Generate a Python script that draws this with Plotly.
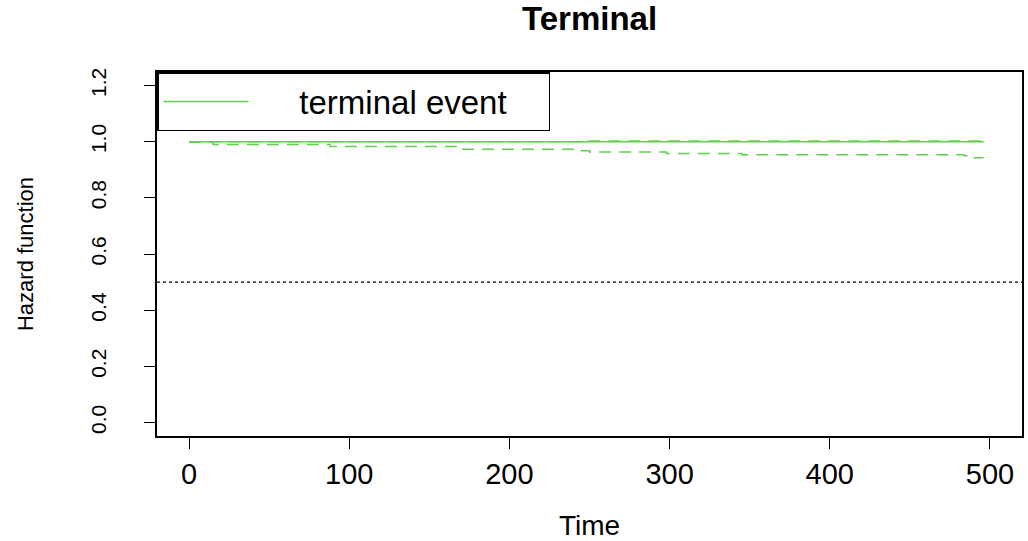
import plotly.graph_objects as go

# ---- data ----
time_pts = [0, 15, 88, 169, 245, 250, 298, 345, 484, 490, 496]
hazard = [1.0, 1.0, 1.0, 1.0, 1.0, 1.0, 1.0, 1.0, 1.0, 1.0, 1.0]
upper = [1.0, 1.0, 1.0, 1.0, 1.002, 1.002, 1.002, 1.002, 1.002, 1.002, 1.002]
lower = [0.998, 0.990, 0.983, 0.973, 0.968, 0.963, 0.958, 0.953, 0.950, 0.943, 0.943]
ref_level = 0.5
x_ticks = [0, 100, 200, 300, 400, 500]
y_ticks = [0.0, 0.2, 0.4, 0.6, 0.8, 1.0, 1.2]
y_tick_text = ["0.0", "0.2", "0.4", "0.6", "0.8", "1.0", "1.2"]
legend_label = "terminal event"

GREEN = "#61D04F"
FONT = "Liberation Sans, Arial, sans-serif"

fig = go.Figure()
fig.add_trace(go.Scatter(x=time_pts, y=upper, mode="lines", line_shape="hv",
                         line=dict(color=GREEN, width=1.5, dash="12px,8px"),
                         showlegend=False, hoverinfo="skip"))
fig.add_trace(go.Scatter(x=time_pts, y=lower, mode="lines", line_shape="hv",
                         line=dict(color=GREEN, width=1.5, dash="12px,8px"),
                         showlegend=False, hoverinfo="skip"))
fig.add_trace(go.Scatter(x=time_pts, y=hazard, mode="lines", line_shape="hv",
                         line=dict(color=GREEN, width=1.5),
                         name="\u00a0" * 5 + legend_label))

fig.add_hline(y=ref_level, line=dict(color="black", width=1.3, dash="3px,3px"))

fig.update_layout(
    width=1028, height=541,
    paper_bgcolor="white", plot_bgcolor="white",
    margin=dict(l=157, r=6, t=72, b=105, autoexpand=False),
    font=dict(family=FONT, color="black"),
    title=dict(text="<b>Terminal</b>", x=0.5735, xanchor="center", y=0.965, yanchor="middle",
               font=dict(size=33, family=FONT, color="black")),
    showlegend=True,
    legend=dict(x=0, y=1, xanchor="left", yanchor="top",
                bgcolor="white", bordercolor="black", borderwidth=1.5,
                orientation="h", entrywidth=290, itemwidth=85,
                font=dict(size=33, family=FONT, color="black")),
    xaxis=dict(range=[-20, 520], tickvals=x_ticks, ticks="outside", ticklen=11,
               tickwidth=1.3, tickcolor="black", showgrid=False, zeroline=False,
               showline=True, linecolor="black", linewidth=1.5, mirror=True,
               automargin=False,
               tickfont=dict(size=29, family=FONT), ticklabelstandoff=0,
               title=dict(text="Time", font=dict(size=28, family=FONT), standoff=31)),
    yaxis=dict(range=[-0.048, 1.248], tickvals=y_ticks, ticktext=y_tick_text,
               ticks="outside", ticklen=11, tickwidth=1.3, tickcolor="black",
               tickangle=-90, showgrid=False, zeroline=False,
               showline=True, linecolor="black", linewidth=1.5, mirror=True,
               automargin=False,
               tickfont=dict(size=21, family=FONT), ticklabelstandoff=30,
               title=dict(text="Hazard function", font=dict(size=22, family=FONT), standoff=47)),
)

fig.write_html("out.html", config={"displayModeBar": False},
               post_script="document.body.style.margin='0';")
